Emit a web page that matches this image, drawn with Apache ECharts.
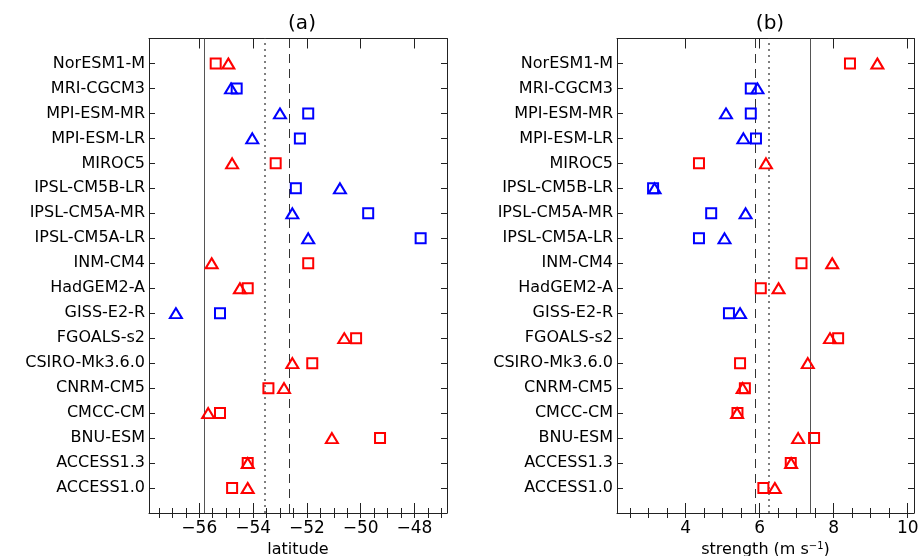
<!DOCTYPE html>
<html><head><meta charset="utf-8">
<script src="https://cdn.jsdelivr.net/npm/echarts@6/dist/echarts.min.js"></script>
<style>html,body{margin:0;padding:0;background:#fff}#c{width:918px;height:556px}</style>
</head><body><div id="c"></div>
<script>
// Models listed top to bottom as in the chart
const models = ['NorESM1-M','MRI-CGCM3','MPI-ESM-MR','MPI-ESM-LR','MIROC5','IPSL-CM5B-LR','IPSL-CM5A-MR','IPSL-CM5A-LR','INM-CM4','HadGEM2-A','GISS-E2-R','FGOALS-s2','CSIRO-Mk3.6.0','CNRM-CM5','CMCC-CM','BNU-ESM','ACCESS1.3','ACCESS1.0'];
const blueModels = ['MRI-CGCM3','MPI-ESM-MR','MPI-ESM-LR','IPSL-CM5B-LR','IPSL-CM5A-MR','IPSL-CM5A-LR','GISS-E2-R'];
// Panel (a): jet latitude
const latSquare   = [-55.39,-54.61,-51.95,-52.26,-53.16,-52.41,-49.72,-47.77,-51.95,-54.20,-55.23,-50.17,-51.80,-53.43,-55.23,-49.28,-54.20,-54.78];
const latTriangle = [-54.92,-54.82,-53.00,-54.03,-54.78,-50.77,-52.54,-51.95,-55.54,-54.49,-56.87,-50.61,-52.54,-52.85,-55.67,-51.07,-54.20,-54.20];
// Panel (b): jet strength (m s-1)
const strSquare   = [8.44,5.76,5.76,5.90,4.36,3.12,4.69,4.36,7.13,6.03,5.17,8.12,5.47,5.60,5.40,7.47,6.84,6.10];
const strTriangle = [9.18,5.94,5.09,5.56,6.17,3.16,5.62,5.05,7.96,6.51,5.47,7.90,7.30,5.54,5.39,7.04,6.85,6.41];
// Reference lines
const latRef = {solid:-55.83, dotted:-53.57, dashed:-52.64};
const strRef = {solid:7.38, dotted:6.25, dashed:5.89};
// Axis ticks
const latMajor = [-56,-54,-52,-50,-48];
const strMajor = [4,6,8,10];
const latRange = [-57.87,-46.79];
const strRange = [2.145,10.17];

const RED='#ff0000', BLUE='#0000ff', AX='#222';
const FONT='DejaVu Sans';
function minors(r){const o=[];for(let v=Math.ceil(r[0]*2)/2;v<=r[1]+1e-9;v+=0.5)o.push(+v.toFixed(2));return o;}
const yTicks = models.map((m,i)=>18-i).reverse();

function xAxes(gi, range, major, name){
  const base={type:'value',gridIndex:gi,min:range[0],max:range[1],splitLine:{show:false},
    axisLine:{show:true,onZero:false,lineStyle:{color:AX,width:1}}};
  return [
    Object.assign({},base,{position:'bottom',
      axisTick:{show:true,inside:true,length:10,customValues:major,lineStyle:{color:AX}},
      axisLabel:{show:true,customValues:major,color:'#000',fontFamily:FONT,fontSize:17,margin:7,
        formatter:v=>String(v).replace('-','\u2212')},
      name:name,nameLocation:'middle',nameGap:24,
      nameTextStyle:{color:'#000',fontFamily:FONT,fontSize:16,
        rich:{sup:{fontSize:10,fontFamily:FONT,color:'#000',verticalAlign:'top',lineHeight:10}}}}),
    Object.assign({},base,{position:'bottom',axisLine:{show:false},
      axisTick:{show:true,inside:true,length:5,customValues:minors(range),lineStyle:{color:AX}},
      axisLabel:{show:false}}),
    Object.assign({},base,{position:'top',
      axisTick:{show:true,inside:true,length:10,customValues:major,lineStyle:{color:AX}},
      axisLabel:{show:false}}),
    Object.assign({},base,{position:'top',axisLine:{show:false},
      axisTick:{show:true,inside:true,length:5,customValues:minors(range),lineStyle:{color:AX}},
      axisLabel:{show:false}})
  ];
}
function yAxes(gi){
  const base={type:'value',gridIndex:gi,min:0,max:19,splitLine:{show:false},
    axisLine:{show:true,onZero:false,lineStyle:{color:AX,width:1}},
    axisTick:{show:true,inside:true,length:6,customValues:yTicks,lineStyle:{color:AX}}};
  return [
    Object.assign({},base,{position:'left',
      axisLabel:{show:true,customValues:yTicks,color:'#000',fontFamily:FONT,fontSize:16,margin:4,
        formatter:v=>models[18-v]}}),
    Object.assign({},base,{position:'right',axisLabel:{show:false}})
  ];
}
function pts(vals){
  return vals.map((v,i)=>({value:[v,18-i],itemStyle:{borderColor:blueModels.includes(models[i])?BLUE:RED}}));
}
function marker(sym,size,xi,yi,vals,ref){
  const s={type:'scatter',xAxisIndex:xi,yAxisIndex:yi,symbol:sym,symbolSize:size,
    itemStyle:{color:'transparent',borderWidth:2,opacity:1},data:pts(vals),z:5,silent:true};
  if(ref){
    s.markLine={silent:true,symbol:'none',label:{show:false},animation:false,
      data:[
        {xAxis:ref.solid,lineStyle:{type:'solid',color:'#555',width:1}},
        {xAxis:ref.dotted,lineStyle:{type:[2,4],color:'#555',width:1.5}},
        {xAxis:ref.dashed,lineStyle:{type:[9,6],color:'#333',width:1}}
      ]};
  }
  return s;
}
const chart=echarts.init(document.getElementById('c'),null,{renderer:'canvas'});
chart.setOption({
  animation:false,
  backgroundColor:'#fff',
  title:[
    {text:'(a)',left:297,top:9,textAlign:'center',textStyle:{fontFamily:FONT,fontSize:20,fontWeight:'normal',color:'#000'}},
    {text:'(b)',left:765,top:9,textAlign:'center',textStyle:{fontFamily:FONT,fontSize:20,fontWeight:'normal',color:'#000'}}
  ],
  grid:[
    {left:149,right:471,top:38.5,bottom:43,containLabel:false,outerBoundsMode:'none'},
    {left:617,right:4,top:38.5,bottom:43,containLabel:false,outerBoundsMode:'none'}
  ],
  xAxis:[...xAxes(0,latRange,latMajor,'latitude'),...xAxes(1,strRange,strMajor,'strength (m s{sup|\u22121})')],
  yAxis:[...yAxes(0),...yAxes(1)],
  series:[
    marker('rect',[10,10],0,0,latSquare,latRef),
    marker('triangle',[12,10],0,0,latTriangle,null),
    marker('rect',[10,10],4,2,strSquare,strRef),
    marker('triangle',[12,10],4,2,strTriangle,null)
  ]
});
</script></body></html>
